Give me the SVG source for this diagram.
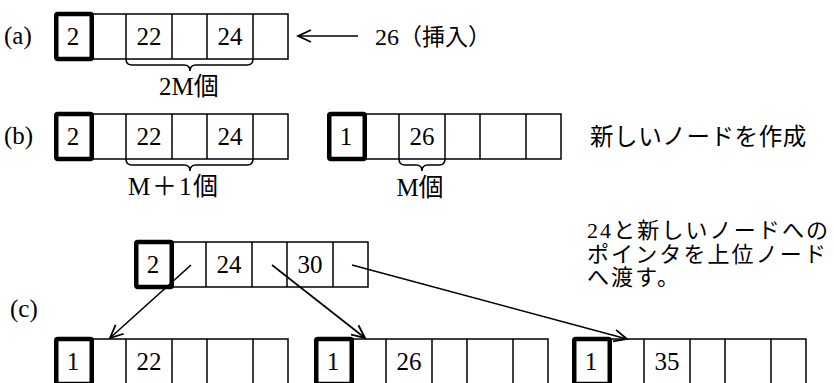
<svg xmlns="http://www.w3.org/2000/svg" width="834" height="383" viewBox="0 0 834 383">
<defs>
<style>
.cell{fill:#fff;stroke:#000;stroke-width:1.5}
.div{stroke:#000;stroke-width:1.5}
.thick{fill:#fff;stroke:#000;stroke-width:4.5}
.num{font-family:'Liberation Serif','Noto Sans CJK JP',serif;font-size:25px;text-anchor:middle;fill:#000}
.lbl{font-family:'Liberation Serif','Noto Sans CJK JP',serif;font-size:25px;fill:#000}
.jp{font-family:'Liberation Serif','Noto Sans CJK JP',sans-serif;font-size:23.5px;letter-spacing:0.6px;fill:#000}
.jp2{font-family:'Liberation Serif','Noto Sans CJK JP',sans-serif;font-size:22px;letter-spacing:2.1px;fill:#000}
.brace{fill:none;stroke:#000;stroke-width:1.5}
.conn{fill:none;stroke:#000;stroke-width:1.6}
</style>
<marker id="open" viewBox="-15 -8 17 16" refX="0" refY="0" markerWidth="17" markerHeight="16" orient="auto" markerUnits="userSpaceOnUse">
<path d="M-13,-6 L0,0 L-13,6" fill="none" stroke="#000" stroke-width="1.8"/>
</marker>
<g id="nodeShape">
<rect class="cell" x="2" y="0" width="232" height="45"/>
<line class="div" x1="72" y1="0" x2="72" y2="45"/>
<line class="div" x1="118" y1="0" x2="118" y2="45"/>
<line class="div" x1="153" y1="0" x2="153" y2="45"/>
<line class="div" x1="199" y1="0" x2="199" y2="45"/>
<rect class="thick" x="2.25" y="0" width="35.5" height="45" rx="1.5"/>
</g>
</defs>

<text class="lbl" x="4" y="44">(a)</text>
<text class="lbl" x="4" y="144">(b)</text>
<text class="lbl" x="10" y="317">(c)</text>

<g id="nodeA">
<use href="#nodeShape" x="54" y="14"/>
<text class="num" x="73" y="45">2</text>
<text class="num" x="149" y="45">22</text>
<text class="num" x="230" y="45">24</text>
<path class="brace" d="M126,59 Q126,65 132,65 L184,65 Q190,65 190,71 Q190,65 196,65 L247,65 Q253,65 253,59"/>
<text class="lbl" x="159" y="95">2M個</text>
</g>
<g id="insertLabel">
<text class="lbl" x="375" y="45"><tspan font-size="24">26</tspan><tspan font-size="23" font-family="'Noto Sans CJK JP',sans-serif" x="399">（挿入）</tspan></text>
</g>

<g id="nodeB1">
<use href="#nodeShape" x="54" y="114"/>
<text class="num" x="73" y="145">2</text>
<text class="num" x="149" y="145">22</text>
<text class="num" x="230" y="145">24</text>
<path class="brace" d="M126,159 Q126,165 132,165 L184,165 Q190,165 190,171 Q190,165 196,165 L247,165 Q253,165 253,159"/>
<text class="lbl" y="195"><tspan x="128">M</tspan><tspan x="152">＋</tspan><tspan x="179">1</tspan><tspan x="193">個</tspan></text>
</g>
<g id="nodeB2">
<use href="#nodeShape" x="327" y="114"/>
<text class="num" x="346" y="145">1</text>
<text class="num" x="422" y="145">26</text>
<path class="brace" d="M399,159 Q399,165 405,165 L416,165 Q422,165 422,171 Q422,165 428,165 L439,165 Q445,165 445,159"/>
<text class="lbl" x="420" y="196" text-anchor="middle">M個</text>
</g>
<g id="newNodeNote">
<text class="jp" x="590" y="145">新しいノードを作成</text>
</g>

<g id="nodeCtop">
<use href="#nodeShape" x="134" y="242"/>
<text class="num" x="153" y="273">2</text>
<text class="num" x="229" y="273">24</text>
<text class="num" x="310" y="273">30</text>
</g>
<g id="nodeC1">
<use href="#nodeShape" x="54" y="339"/>
<text class="num" x="73" y="370">1</text>
<text class="num" x="149" y="370">22</text>
</g>
<g id="nodeC2">
<use href="#nodeShape" x="314" y="339"/>
<text class="num" x="333" y="370">1</text>
<text class="num" x="409" y="370">26</text>
</g>
<g id="nodeC3">
<use href="#nodeShape" x="572" y="339"/>
<text class="num" x="591" y="370">1</text>
<text class="num" x="667" y="370">35</text>
</g>
<g id="passNote">
<text class="jp2" x="587" y="238">24と新しいノードへの</text>
<text class="jp2" x="587" y="261.5">ポインタを上位ノード</text>
<text class="jp2" x="587" y="285">へ渡す。</text>
</g>

<g id="connectors">
<line class="conn" x1="358" y1="36" x2="298" y2="36" marker-end="url(#open)"/>
<line class="conn" x1="191" y1="265" x2="110" y2="338" marker-end="url(#open)"/>
<line class="conn" x1="272" y1="265" x2="365" y2="338" marker-end="url(#open)"/>
<line class="conn" x1="352" y1="265" x2="627" y2="339" marker-end="url(#open)"/>
</g>
</svg>
